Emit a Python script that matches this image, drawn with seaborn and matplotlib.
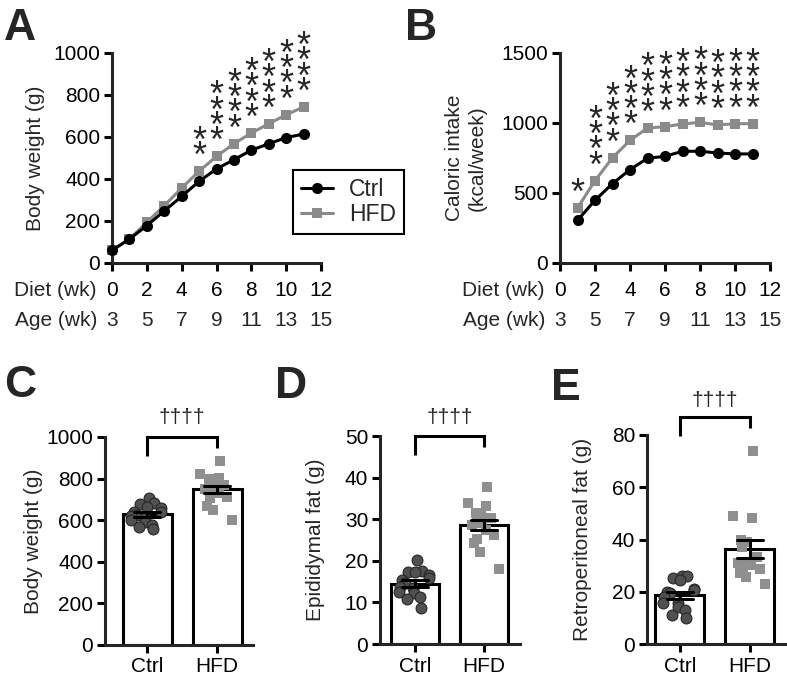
import numpy as np
import pandas as pd
import matplotlib
matplotlib.use("Agg")
import matplotlib.pyplot as plt
import seaborn as sns
from matplotlib.lines import Line2D

# ---------------- data ----------------
bw_weeks = [0, 1, 2, 3, 4, 5, 6, 7, 8, 9, 10, 11]
bw_ctrl = [60, 114, 178, 248, 317, 389, 448, 492, 537, 568, 597, 614]
bw_hfd = [60, 114, 194, 273, 357, 437, 508, 568, 619, 663, 706, 743]
bw_stars = [0, 0, 0, 0, 0, 2, 4, 4, 4, 4, 4, 4]

ci_weeks = [1, 2, 3, 4, 5, 6, 7, 8, 9, 10, 11]
ci_ctrl = [305, 448, 567, 667, 748, 762, 798, 798, 786, 779, 779]
ci_hfd = [393, 588, 752, 876, 964, 974, 993, 1005, 986, 995, 995]
ci_stars = [1, 4, 4, 4, 4, 4, 4, 4, 4, 4, 4]

diet_ticks = [0, 2, 4, 6, 8, 10, 12]
diet_labels = ["0", "2", "4", "6", "8", "10", "12"]
age_labels = ["3", "5", "7", "9", "11", "13", "15"]

groups = ["Ctrl", "HFD"]

final_bw_ctrl = [708, 681, 680, 665, 657, 641, 638, 625, 620, 609, 601, 593, 577, 565, 556]
final_bw_hfd = [886, 822, 801, 796, 790, 777, 770, 760, 750, 729, 713, 705, 668, 649, 601]

epi_ctrl = [20.2, 17.6, 17.4, 17.2, 16.6, 15.8, 15.4, 14.6, 13.8, 13.4, 12.6, 12.3, 11.4, 10.7, 8.6]
epi_hfd = [37.8, 34.0, 33.2, 31.6, 31.3, 30.6, 30.2, 29.0, 28.5, 27.4, 26.2, 25.2, 24.2, 22.2, 18.0]

retro_ctrl = [26.0, 26.0, 25.1, 24.5, 21.0, 20.7, 20.0, 19.4, 18.1, 15.6, 15.6, 14.2, 13.0, 11.1, 9.8]
retro_hfd = [74.0, 49.0, 48.1, 39.8, 39.2, 37.2, 33.4, 30.9, 30.9, 30.2, 28.6, 27.7, 27.1, 25.8, 23.0]

# ---------------- style ----------------
sns.set_style("ticks")
plt.rcParams["font.family"] = ["Liberation Sans", "DejaVu Sans"]
FS = 15
LW = 2.2
GRAY_LINE = "#8a8a8a"
DARK_PT = "#505050"
LIGHT_PT = "#8f8f8f"

W, H = 787, 676
fig = plt.figure(figsize=(W / 100, H / 100), dpi=100)


def add_ax(left, top, right, bottom):
    return fig.add_axes([left / W, 1 - bottom / H, (right - left) / W, (bottom - top) / H])


def style_ax(ax):
    sns.despine(ax=ax)
    for s in ["left", "bottom"]:
        ax.spines[s].set_linewidth(LW)
    ax.tick_params(axis="both", direction="out", length=6, width=LW, labelsize=FS, colors="black")
    ax.tick_params(axis="y", pad=2.5)
    ax.set_facecolor("none")


def line_panel(ax, weeks, ctrl, hfd, stars, ylim, yticks, ylabel, ylab_x):
    d_h = pd.DataFrame({"week": weeks, "value": hfd})
    d_c = pd.DataFrame({"week": weeks, "value": ctrl})
    sns.lineplot(data=d_h, x="week", y="value", color=GRAY_LINE, marker="s", markersize=7.2,
                 markeredgewidth=0, linewidth=LW, ax=ax, zorder=3, clip_on=False)
    sns.lineplot(data=d_c, x="week", y="value", color="black", marker="o", markersize=8,
                 markeredgewidth=0, linewidth=LW, ax=ax, zorder=4, clip_on=False)
    ax.set_xlim(0, 12)
    ax.set_ylim(*ylim)
    ax.set_yticks(yticks)
    ax.set_xticks(diet_ticks)
    ax.set_xticklabels(diet_labels)
    style_ax(ax)
    ax.tick_params(axis="x", pad=7)
    ax.set_xlabel("")
    ax.set_ylabel(ylabel, fontsize=FS)
    ax.yaxis.set_label_coords(ylab_x, 0.5)
    # stars: one stacked text per column
    for w, v, n in zip(weeks, hfd, stars):
        if n:
            ax.annotate("\n".join(["*"] * n), xy=(w, v), xytext=(0, -4),
                        textcoords="offset pixels", ha="center", va="bottom", fontsize=26,
                        linespacing=0.27, annotation_clip=False)
    # age row and row labels
    for x, lab in zip(diet_ticks, age_labels):
        ax.annotate(lab, xy=(x, 0), xycoords=("data", "axes fraction"), xytext=(0, -63),
                    textcoords="offset pixels", ha="center", va="baseline", fontsize=FS,
                    annotation_clip=False)
    ax.annotate("Diet (wk)", xy=(0, 0), xycoords="axes fraction", xytext=(-15, -33),
                textcoords="offset pixels", ha="right", va="baseline", fontsize=FS,
                annotation_clip=False)
    ax.annotate("Age (wk)", xy=(0, 0), xycoords="axes fraction", xytext=(-15, -63),
                textcoords="offset pixels", ha="right", va="baseline", fontsize=FS,
                annotation_clip=False)


def bar_panel(ax, ctrl, hfd, ylim, yticks, ylabel, xlim, ylab_x, top_val, dag_px):
    df = pd.DataFrame({"group": ["Ctrl"] * len(ctrl) + ["HFD"] * len(hfd), "value": ctrl + hfd})
    sns.barplot(data=df, x="group", y="value", order=groups, errorbar=("se", 1), capsize=0.38,
                width=0.7, color="white", saturation=1, edgecolor="black", linewidth=LW,
                err_kws={"color": "black", "linewidth": LW, "zorder": 10}, ax=ax)
    np.random.seed(3)
    sns.stripplot(data=df[df.group == "Ctrl"], x="group", y="value", order=groups, marker="o",
                  color=DARK_PT, size=7.8, linewidth=0.8, edgecolor="#262626", jitter=0.25,
                  ax=ax, zorder=5)
    sns.stripplot(data=df[df.group == "HFD"], x="group", y="value", order=groups, marker="s",
                  color=LIGHT_PT, size=7.2, linewidth=0, jitter=0.25, ax=ax, zorder=5)
    ax.set_xlim(*xlim)
    ax.set_ylim(*ylim)
    ax.set_yticks(yticks)
    style_ax(ax)
    ax.tick_params(axis="x", pad=3)
    ax.set_xlabel("")
    ax.set_ylabel(ylabel, fontsize=FS)
    ax.yaxis.set_label_coords(ylab_x, 0.5)
    # significance bracket
    ax_h = ax.get_window_extent().height
    per_px = (ylim[1] - ylim[0]) / ax_h
    ax.plot([0, 0, 1, 1], [top_val - 19 * per_px, top_val, top_val, top_val - 11 * per_px],
            color="black", lw=LW, clip_on=False, solid_capstyle="butt", solid_joinstyle="miter")
    ax.annotate("\u2020\u2020\u2020\u2020", xy=(0.5, top_val), xytext=(0, dag_px),
                textcoords="offset pixels", ha="center", va="center", fontsize=15,
                annotation_clip=False)


axA = add_ax(112, 53, 321, 263)
line_panel(axA, bw_weeks, bw_ctrl, bw_hfd, bw_stars, (0, 1000), [0, 200, 400, 600, 800, 1000],
           "Body weight (g)", -0.32)

axB = add_ax(560, 53, 770, 263)
line_panel(axB, ci_weeks, ci_ctrl, ci_hfd, ci_stars, (0, 1500), [0, 500, 1000, 1500],
           "Caloric intake\n(kcal/week)", -0.35)

handles = [Line2D([], [], color="black", marker="o", markersize=8, markeredgewidth=0, lw=LW),
           Line2D([], [], color=GRAY_LINE, marker="s", markersize=7.2, markeredgewidth=0, lw=LW)]
leg = fig.legend(handles, groups, loc="upper left", bbox_to_anchor=(293 / W, 1 - 170 / H),
                 frameon=True, fancybox=False, edgecolor="black", framealpha=1, fontsize=16.5,
                 handlelength=1.4, handletextpad=0.7, borderpad=0.35, labelspacing=0.08,
                 borderaxespad=0)
leg.get_frame().set_linewidth(1.5)

axC = add_ax(105, 437, 253, 645)
bar_panel(axC, final_bw_ctrl, final_bw_hfd, (0, 1000), [0, 200, 400, 600, 800, 1000],
          "Body weight (g)", (-0.6, 1.514), -0.42, 1000, 20)

axD = add_ax(380, 436, 520, 644)
bar_panel(axD, epi_ctrl, epi_hfd, (0, 50), [0, 10, 20, 30, 40, 50],
          "Epididymal fat (g)", (-0.507, 1.52), -0.39, 50, 19)

axE = add_ax(647, 435, 787, 644)
bar_panel(axE, retro_ctrl, retro_hfd, (0, 80), [0, 20, 40, 60, 80],
          "Retroperitoneal fat (g)", (-0.47, 1.53), -0.39, 87, 16)

for lab, x, y in [("A", 4, 40), ("B", 405, 40), ("C", 4, 397), ("D", 275, 398), ("E", 551, 400)]:
    fig.text(x / W, 1 - y / H, lab, fontsize=32, fontweight="bold", ha="left", va="baseline")

fig.savefig("out.png", dpi=100)
